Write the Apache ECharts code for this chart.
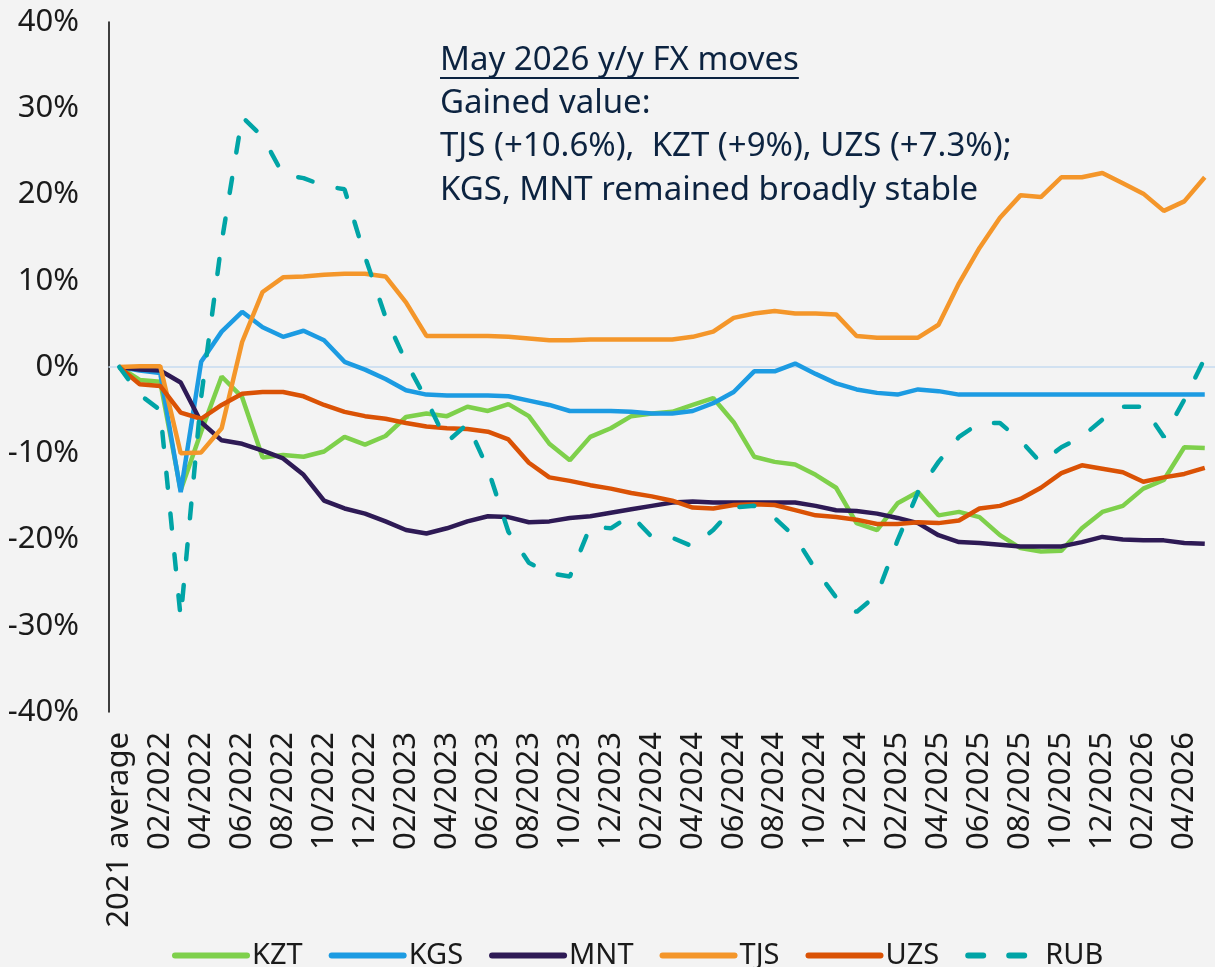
<!DOCTYPE html>
<html>
<head>
<meta charset="utf-8">
<script src="https://cdn.jsdelivr.net/npm/echarts@6/dist/echarts.min.js"></script>
<style>
  html, body { margin: 0; padding: 0; background: #f3f3f3; }
  #chart { width: 1215px; height: 967px; }
</style>
</head>
<body>
<div id="chart"></div>
<script>
// categories: 2021 average, then monthly 01/2022 .. 05/2026
const categories = [
  '2021 average',
  '01/2022', '02/2022', '03/2022', '04/2022', '05/2022', '06/2022', '07/2022', '08/2022', '09/2022', '10/2022', '11/2022', '12/2022',
  '01/2023', '02/2023', '03/2023', '04/2023', '05/2023', '06/2023', '07/2023', '08/2023', '09/2023', '10/2023', '11/2023', '12/2023',
  '01/2024', '02/2024', '03/2024', '04/2024', '05/2024', '06/2024', '07/2024', '08/2024', '09/2024', '10/2024', '11/2024', '12/2024',
  '01/2025', '02/2025', '03/2025', '04/2025', '05/2025', '06/2025', '07/2025', '08/2025', '09/2025', '10/2025', '11/2025', '12/2025',
  '01/2026', '02/2026', '03/2026', '04/2026', '05/2026'
];

// % change vs 2021 average
const kzt = [0, -1.5, -1.7, -14.3, -7.5, -1.1, -3.5, -10.5, -10.2, -10.4, -9.8, -8.1, -9.0,
  -8.0, -5.8, -5.4, -5.7, -4.6, -5.1, -4.3, -5.7, -8.9, -10.8, -8.1, -7.1,
  -5.7, -5.4, -5.2, -4.4, -3.6, -6.4, -10.4, -11.0, -11.3, -12.5, -14.0, -18.1,
  -18.9, -15.8, -14.5, -17.2, -16.8, -17.4, -19.5, -21.0, -21.4, -21.3, -18.7, -16.8,
  -16.1, -14.1, -13.1, -9.3, -9.4];
const kgs = [0, -0.4, -0.7, -14.5, 0.6, 4.1, 6.4, 4.6, 3.5, 4.2, 3.1, 0.6, -0.3,
  -1.4, -2.7, -3.2, -3.3, -3.3, -3.3, -3.4, -3.9, -4.4, -5.1, -5.1, -5.1,
  -5.2, -5.4, -5.4, -5.1, -4.2, -2.9, -0.5, -0.5, 0.4, -0.8, -1.9, -2.6,
  -3.0, -3.2, -2.6, -2.8, -3.2, -3.2, -3.2, -3.2, -3.2, -3.2, -3.2, -3.2,
  -3.2, -3.2, -3.2, -3.2, -3.2];
const mnt = [0, -0.3, -0.4, -1.8, -6.4, -8.5, -8.9, -9.7, -10.6, -12.5, -15.5, -16.4, -17.0,
  -17.9, -18.9, -19.3, -18.7, -17.9, -17.3, -17.4, -18.0, -17.9, -17.5, -17.3, -16.9,
  -16.5, -16.1, -15.7, -15.6, -15.7, -15.7, -15.7, -15.7, -15.7, -16.1, -16.6, -16.7,
  -17.0, -17.5, -18.1, -19.5, -20.3, -20.4, -20.6, -20.8, -20.8, -20.8, -20.3, -19.7,
  -20.0, -20.1, -20.1, -20.4, -20.5];
const tjs = [0, 0.1, 0.1, -10.0, -9.9, -7.1, 2.9, 8.7, 10.4, 10.5, 10.7, 10.8, 10.8,
  10.5, 7.5, 3.6, 3.6, 3.6, 3.6, 3.5, 3.3, 3.1, 3.1, 3.2, 3.2,
  3.2, 3.2, 3.2, 3.5, 4.1, 5.7, 6.2, 6.5, 6.2, 6.2, 6.1, 3.6,
  3.4, 3.4, 3.4, 4.9, 9.7, 13.8, 17.3, 19.9, 19.7, 22.0, 22.0, 22.5,
  21.3, 20.1, 18.1, 19.2, 22.0];
const uzs = [0, -2.0, -2.2, -5.3, -6.0, -4.4, -3.1, -2.9, -2.9, -3.4, -4.4, -5.2, -5.7,
  -6.0, -6.5, -6.9, -7.1, -7.2, -7.5, -8.4, -11.1, -12.8, -13.2, -13.7, -14.1,
  -14.6, -15.0, -15.5, -16.3, -16.4, -16.0, -15.9, -16.0, -16.6, -17.2, -17.4, -17.7,
  -18.2, -18.2, -18.0, -18.1, -17.8, -16.4, -16.1, -15.3, -14.0, -12.3, -11.4, -11.8,
  -12.2, -13.3, -12.8, -12.4, -11.7];
const rub = [0, -3.2, -5.0, -29.1, -3.5, 14.5, 29.0, 26.7, 22.3, 21.9, 21.0, 20.6, 12.8,
  5.8, 0.6, -3.8, -8.7, -6.6, -11.8, -19.1, -22.7, -23.9, -24.3, -18.5, -18.7,
  -17.2, -19.7, -19.8, -20.8, -18.9, -16.3, -16.1, -17.5, -19.7, -23.5, -26.7, -28.4,
  -26.4, -20.1, -14.5, -11.0, -8.1, -6.5, -6.5, -8.5, -11.1, -9.3, -8.1, -6.1,
  -4.6, -4.6, -8.1, -3.8, 1.0];

const seriesNames = ['KZT', 'KGS', 'MNT', 'TJS', 'UZS', 'RUB'];
const seriesData = [kzt, kgs, mnt, tjs, uzs, rub];
const colors = ['#7ED04B', '#1C9BE2', '#2E1A55', '#F4962A', '#DA5205', '#00A4A6'];

const noteLines = [
  'May 2026 y/y FX moves',
  'Gained value:',
  'TJS (+10.6%),  KZT (+9%), UZS (+7.3%);',
  'KGS, MNT remained broadly stable'
];

const FONT = '"Noto Sans", "Open Sans", sans-serif';
const textColor = '#1a1a1a';
const noteColor = '#0C2340';
const noteFont = '33px ' + FONT;

const chart = echarts.init(document.getElementById('chart'));

// underline width for the note title
const measure = document.createElement('canvas').getContext('2d');
measure.font = noteFont;
const titleWidth = measure.measureText(noteLines[0]).width;

const noteX = 440;
const noteY = [61, 104, 147, 191];
const graphics = noteLines.map((t, i) => ({
  type: 'text',
  x: noteX,
  y: noteY[i],
  silent: true,
  style: {
    text: t,
    fill: noteColor,
    font: noteFont,
    align: 'left',
    verticalAlign: 'middle'
  }
}));
graphics.push({
  type: 'line',
  silent: true,
  shape: { x1: noteX, y1: 78, x2: noteX + titleWidth, y2: 78 },
  style: { stroke: noteColor, lineWidth: 2 }
});

const option = {
  backgroundColor: '#f3f3f3',
  animation: false,
  color: colors,
  grid: { left: 109, right: -17, top: 22, bottom: 255 },
  legend: {
    data: seriesNames,
    left: 167,
    top: 936,
    itemWidth: 72,
    itemHeight: 14,
    itemGap: 26,
    itemStyle: { opacity: 0 },
    lineStyle: { width: 6, cap: 'round' },
    textStyle: { fontSize: 29, color: textColor, fontFamily: FONT }
  },
  xAxis: [{
    type: 'category',
    data: categories,
    boundaryGap: true,
    axisLine: { show: false, onZero: false },
    axisTick: { show: false },
    axisLabel: {
      interval: 1,
      rotate: 90,
      margin: 20,
      fontSize: 31,
      color: textColor,
      fontFamily: FONT
    }
  }, {
    // zero line
    type: 'category',
    data: categories,
    position: 'bottom',
    axisLine: { show: true, onZero: true, lineStyle: { color: '#C6DBF1', width: 1.5 } },
    axisTick: { show: false },
    axisLabel: { show: false }
  }],
  yAxis: {
    type: 'value',
    min: -40,
    max: 40,
    interval: 10,
    axisLine: { show: true, lineStyle: { color: '#000', width: 1.5 } },
    axisTick: { show: false },
    splitLine: { show: false },
    axisLabel: {
      formatter: '{value}%',
      margin: 30,
      fontSize: 31,
      color: textColor,
      fontFamily: FONT
    }
  },
  graphic: graphics,
  series: seriesNames.map((name, i) => ({
    name: name,
    type: 'line',
    data: seriesData[i],
    symbol: 'none',
    showSymbol: false,
    lineStyle: name === 'RUB'
      ? { width: 4.5, color: colors[i], type: [15, 26], cap: 'round' }
      : { width: 4.5, color: colors[i] },
    itemStyle: { color: colors[i] }
  }))
};

chart.setOption(option);
</script>
</body>
</html>
